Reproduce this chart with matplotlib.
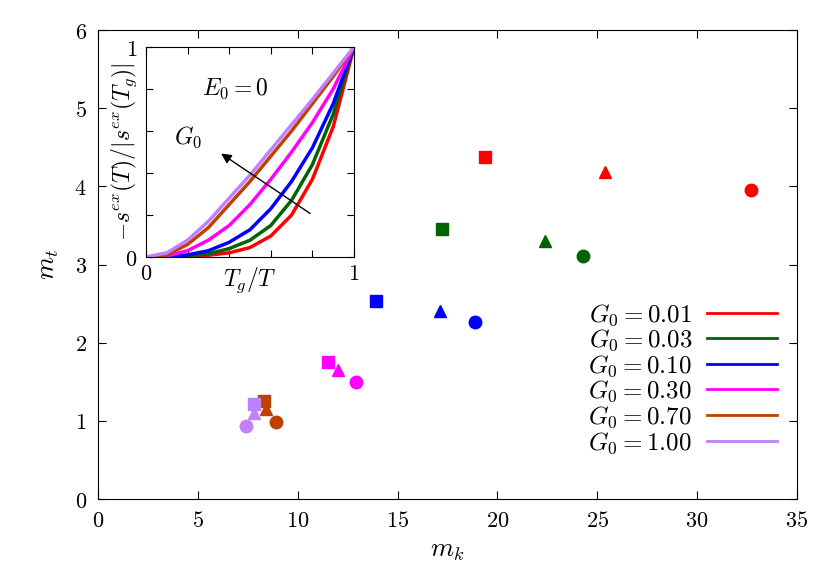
import matplotlib
matplotlib.use("Agg")
import matplotlib.pyplot as plt

plt.rcParams['mathtext.fontset'] = 'cm'
plt.rcParams['font.family'] = ['DejaVu Serif']

colors = ['#ff0000', '#006400', '#0000ff', '#ff00ff', '#c04000', '#c080ff']
labels = ['0.01', '0.03', '0.10', '0.30', '0.70', '1.00']
sq_x = [19.4, 17.2, 13.9, 11.5, 8.3, 7.8]
sq_y = [4.37, 3.45, 2.53, 1.75, 1.25, 1.21]
tr_x = [25.4, 22.4, 17.1, 12.0, 8.4, 7.8]
tr_y = [4.18, 3.30, 2.40, 1.65, 1.15, 1.10]
ci_x = [32.7, 24.3, 18.9, 12.9, 8.9, 7.4]
ci_y = [3.95, 3.11, 2.26, 1.50, 0.99, 0.93]
x_ticks = [0, 5, 10, 15, 20, 25, 30, 35]
y_ticks = [0, 1, 2, 3, 4, 5, 6]

inset_x = [0, .1, .2, .3, .4, .5, .6, .7, .8, .9, 1]
inset_y = [
    [0, 0, 0.002, 0.008, 0.02, 0.045, 0.1, 0.2, 0.37, 0.62, 1],
    [0, 0, 0.005, 0.015, 0.04, 0.08, 0.15, 0.27, 0.44, 0.68, 1],
    [0, 0.002, 0.01, 0.03, 0.07, 0.13, 0.23, 0.36, 0.52, 0.73, 1],
    [0, 0.005, 0.03, 0.08, 0.15, 0.25, 0.37, 0.5, 0.64, 0.8, 1],
    [0, 0.01, 0.06, 0.14, 0.25, 0.36, 0.48, 0.6, 0.73, 0.86, 1],
    [0, 0.02, 0.08, 0.17, 0.28, 0.39, 0.51, 0.63, 0.75, 0.875, 1],
]

W, H = 830, 581
fig = plt.figure(figsize=(W/100, H/100), dpi=100)
ax = fig.add_axes([98/W, 1-499/H, (797-98)/W, (499-30)/H])
for i, c in enumerate(colors):
    ax.plot(sq_x[i], sq_y[i], 's', color=c, ms=9)
    ax.plot(tr_x[i], tr_y[i], '^', color=c, ms=9)
    ax.plot(ci_x[i], ci_y[i], 'o', color=c, ms=9)
    ax.plot([], [], '-', color=c, lw=2, label=r'$G_0 = %s$' % labels[i])
ax.set_xlim(0, 35)
ax.set_ylim(0, 6)
ax.set_xticks(x_ticks)
ax.set_xticklabels([r'$%d$' % v for v in x_ticks])
ax.set_yticks(y_ticks)
ax.set_yticklabels([r'$%d$' % v for v in y_ticks])
ax.tick_params(direction='in', top=True, right=True, labelsize=16, length=6, pad=8)
ax.set_xlabel(r'$m_k$', fontsize=19)
ax.set_ylabel(r'$m_t$', fontsize=19, labelpad=10)
ax.legend(loc='lower right', bbox_to_anchor=(1.0, 0.05), frameon=False, markerfirst=False,
          fontsize=18, handlelength=2.8, labelspacing=0.0, borderpad=0.3, handletextpad=0.6)

ins = fig.add_axes([146/W, 1-257/H, (354-146)/W, (257-47)/H])
for i, c in enumerate(colors):
    ins.plot(inset_x, inset_y[i], '-', color=c, lw=2.5)
ins.set_xlim(0, 1)
ins.set_ylim(0, 1)
ins.set_xticks([0, 0.2, 0.4, 0.6, 0.8, 1])
ins.set_xticklabels([r'$0$', '', '', '', '', r'$1$'])
ins.set_yticks([0, 0.2, 0.4, 0.6, 0.8, 1])
ins.set_yticklabels([r'$0$', '', '', '', '', r'$1$'])
ins.tick_params(axis='x', direction='in', top=True, labelsize=16, length=5, pad=4)
ins.tick_params(axis='y', direction='in', right=True, labelsize=16, length=5, pad=6)
ins.set_xlabel(r'$T_g/T$', fontsize=17, labelpad=-14)
ins.set_ylabel(r'$-s^{ex}(T)/|s^{ex}(T_g)|$', fontsize=17, labelpad=-10)
ins.text(0.43, 0.8, r'$E_0 = 0$', fontsize=17, ha='center', va='center')
ins.text(0.2, 0.57, r'$G_0$', fontsize=17, ha='center', va='center')
ins.annotate('', xy=(0.35, 0.5), xytext=(0.8, 0.2),
             arrowprops=dict(arrowstyle='-|>', color='black', lw=1, mutation_scale=15))

fig.savefig('out.png', dpi=100)
